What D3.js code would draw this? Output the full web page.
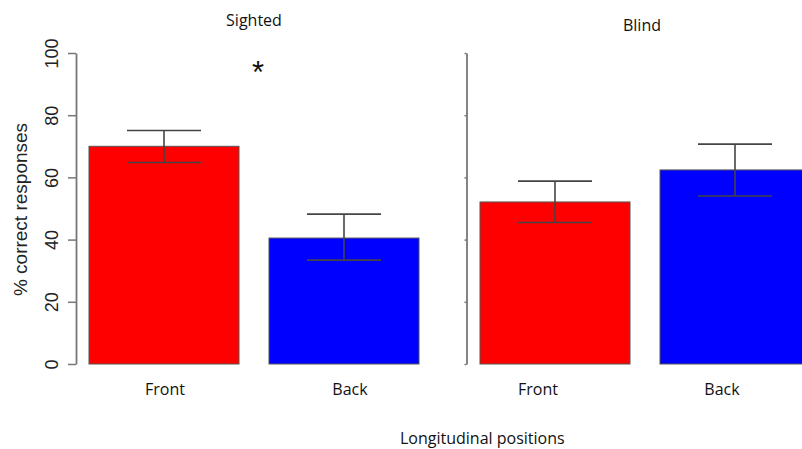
<!DOCTYPE html>
<html><head><meta charset="utf-8">
<script src="https://cdn.jsdelivr.net/npm/d3@7"></script>
<style>body{margin:0;background:#fff}svg{display:block}</style>
</head><body>
<script>
const groups = ["Sighted", "Blind"];
const categories = ["Front", "Back"];
const sightedValues = [70.0, 40.5];
const sightedLower = [64.8, 33.4];
const sightedUpper = [75.1, 48.2];
const blindValues = [52.1, 62.4];
const blindLower = [45.5, 54.0];
const blindUpper = [58.8, 70.7];
const yTicks = [0, 20, 40, 60, 80, 100];
const colors = ["#ff0000", "#0000ff"];
const yTitle = "% correct responses";
const xTitle = "Longitudinal positions";

const W = 802, H = 449;
const svg = d3.select("body").append("svg").attr("width", W).attr("height", H);

const y = d3.scaleLinear().domain([0, 100]).range([364, 53]);

const panels = [
  {name: groups[0], vals: sightedValues, lo: sightedLower, hi: sightedUpper, range: [74, 434], axisX: 76, labels: true, titleDx: 0, titleY: 26, labelDx: [1, 6]},
  {name: groups[1], vals: blindValues, lo: blindLower, hi: blindUpper, range: [465, 825], axisX: 466.5, labels: false, titleDx: -3, titleY: 31, labelDx: [-17, -13]}
];

panels.forEach((p, pi) => {
  const x = d3.scaleBand().domain(categories).range(p.range).paddingInner(1/6).paddingOuter(1/12);
  const g = svg.append("g");

  g.selectAll("rect").data(categories).join("rect")
    .attr("x", d => x(d)).attr("y", (d, i) => y(p.vals[i]))
    .attr("width", x.bandwidth()).attr("height", (d, i) => y(0) - y(p.vals[i]))
    .attr("fill", (d, i) => colors[i]).attr("stroke", "#555").attr("stroke-width", 1);

  const capW = 74;
  categories.forEach((c, i) => {
    const cx = x(c) + x.bandwidth() / 2;
    const eg = g.append("g").attr("stroke", "#444").attr("stroke-width", 1.6);
    eg.append("line").attr("x1", cx).attr("x2", cx).attr("y1", y(p.hi[i])).attr("y2", y(p.lo[i]));
    eg.append("line").attr("x1", cx - capW/2).attr("x2", cx + capW/2).attr("y1", y(p.hi[i])).attr("y2", y(p.hi[i]));
    eg.append("line").attr("x1", cx - capW/2).attr("x2", cx + capW/2).attr("y1", y(p.lo[i])).attr("y2", y(p.lo[i]));
  });

  const ax = g.append("g").attr("transform", `translate(${p.axisX},0)`);
  if (p.labels) {
    ax.call(d3.axisLeft(y).tickValues(yTicks).tickSize(8).tickSizeOuter(0));
    ax.selectAll(".tick text")
      .attr("x", -18).attr("y", 0).attr("dy", null)
      .attr("transform", "rotate(-90,-18,0)")
      .attr("text-anchor", "middle")
      .style("font-family", "'Liberation Sans', Arial, sans-serif").style("font-size", "18px").attr("fill", "#222");
  } else {
    ax.call(d3.axisLeft(y).tickValues(yTicks).tickSize(2).tickSizeOuter(0).tickFormat(""));
  }
  ax.select(".domain").attr("stroke", "#777").attr("stroke-width", 1.8);
  ax.selectAll(".tick line").attr("stroke", "#777").attr("stroke-width", 1.5);

  svg.append("text").attr("x", (x(categories[0]) + x(categories[1]) + x.bandwidth()) / 2 + p.titleDx).attr("y", p.titleY)
    .attr("text-anchor", "middle").style("font-family", "'Open Sans', sans-serif").style("font-size", "16px").attr("fill", "#111")
    .text(p.name);

  categories.forEach((c, i) => {
    svg.append("text").attr("x", x(c) + x.bandwidth()/2 + p.labelDx[i]).attr("y", 395)
      .attr("text-anchor", "middle").style("font-family", "'Open Sans', sans-serif").style("font-size", "16px").attr("fill", "#111")
      .text(c);
  });

  if (pi === 0) {
    svg.append("text").attr("x", x(categories[0]) + x.bandwidth() + 19).attr("y", y(100) + 30)
      .attr("text-anchor", "middle").style("font-family", "'Liberation Sans', Arial, sans-serif").style("font-size", "31px").attr("fill", "#111")
      .text("*");
  }
});

svg.append("text").attr("transform", "translate(27,209.5) rotate(-90)")
  .attr("text-anchor", "middle").style("font-family", "'Liberation Sans', Arial, sans-serif").style("font-size", "19px").attr("fill", "#222")
  .text(yTitle);

svg.append("text").attr("x", 400).attr("y", 444)
  .attr("text-anchor", "start").style("font-family", "'Open Sans', sans-serif").style("font-size", "16px").attr("fill", "#111")
  .text(xTitle);
</script>
</body></html>
